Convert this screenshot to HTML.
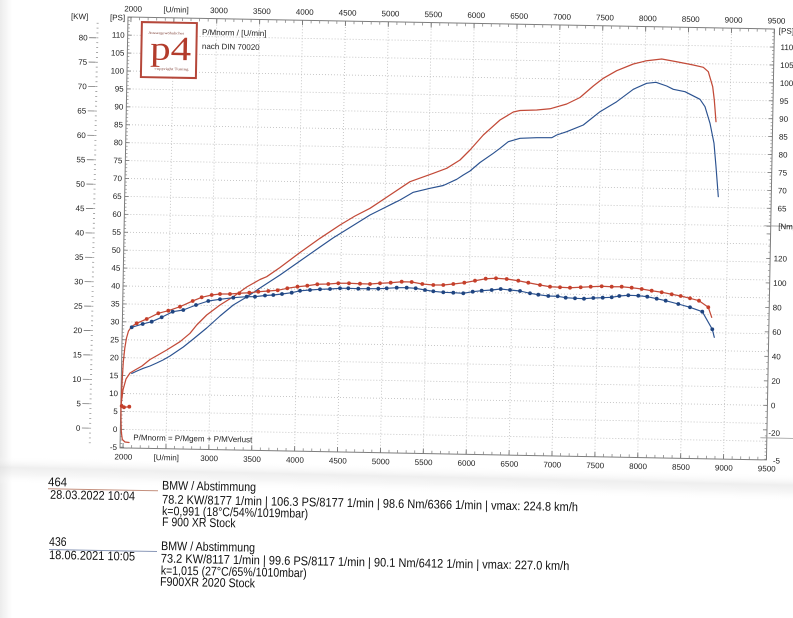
<!DOCTYPE html>
<html><head><meta charset="utf-8"><title>Dyno chart</title>
<style>html,body{margin:0;padding:0;background:#fff;width:793px;height:618px;overflow:hidden}svg{display:block}</style></head>
<body>
<svg xmlns="http://www.w3.org/2000/svg" width="793" height="618" viewBox="0 0 793 618">
<defs>
<linearGradient id="crease" x1="0" y1="0" x2="0" y2="1">
<stop offset="0" stop-color="#fff" stop-opacity="0"/>
<stop offset="0.4" stop-color="#dadada" stop-opacity="0.45"/>
<stop offset="0.65" stop-color="#e8e8e8" stop-opacity="0.4"/>
<stop offset="1" stop-color="#fff" stop-opacity="0"/>
</linearGradient>
<linearGradient id="leftedge" x1="0" y1="0" x2="1" y2="0">
<stop offset="0" stop-color="#ececec"/><stop offset="1" stop-color="#fff"/>
</linearGradient>
<marker id="dr" markerWidth="6" markerHeight="6" refX="3" refY="3" markerUnits="userSpaceOnUse"><circle cx="3" cy="3" r="1.9" fill="#c53f2a"/></marker>
<marker id="db" markerWidth="6" markerHeight="6" refX="3" refY="3" markerUnits="userSpaceOnUse"><circle cx="3" cy="3" r="1.9" fill="#1f4480"/></marker>
</defs>
<rect width="793" height="618" fill="#fff"/>
<rect x="0" y="0" width="12" height="618" fill="url(#leftedge)"/>
<rect x="0" y="456" width="800" height="28" fill="url(#crease)" transform="rotate(1.3 0 456)"/>

<g transform="rotate(1.06 128 17) translate(128 17)" font-family="'Liberation Sans', Arial, sans-serif" font-size="8" fill="#222">
<!-- grid -->
<g stroke="#c2c2c2" stroke-width="0.9" stroke-dasharray="1 2" fill="none">
<path d="M45.9 0V431M88.8 0V431M131.7 0V431M174.6 0V431M217.5 0V431M260.4 0V431M303.3 0V431M346.2 0V431M389.1 0V431M432 0V431M474.9 0V431M517.8 0V431M560.7 0V431M603.6 0V431"/>
<path d="M0 18.12H646.5M0 36.04H646.5M0 53.96H646.5M0 71.88H646.5M0 89.8H646.5M0 107.72H646.5M0 125.64H646.5M0 143.56H646.5M0 161.48H646.5M0 179.4H646.5M0 197.32H646.5M0 215.24H646.5M0 233.16H646.5M0 251.08H646.5M0 269H646.5M0 286.92H646.5M0 304.84H646.5M0 322.76H646.5M0 340.68H646.5M0 358.6H646.5M0 376.52H646.5M0 394.44H646.5M0 412.36H646.5"/>
</g>
<!-- frame -->
<path d="M0 0H646.5V431H0Z" stroke="#7d7d7d" stroke-width="1" fill="none"/>
<path d="M640 197H668M640 409H700" stroke="#9a9a9a" stroke-width="0.8" fill="none"/>
<!-- ticks -->
<g fill="none">
<line x1="2.6" y1="1.5" x2="647" y2="1.5" stroke="#888" stroke-width="3" stroke-dasharray="0.8 7.78"/>
<line x1="2.55" y1="2.5" x2="648" y2="2.5" stroke="#777" stroke-width="5" stroke-dasharray="0.9 42"/>
<line x1="2.6" y1="429.5" x2="647" y2="429.5" stroke="#888" stroke-width="3" stroke-dasharray="0.8 7.78"/>
<line x1="2.55" y1="428.5" x2="648" y2="428.5" stroke="#777" stroke-width="5" stroke-dasharray="0.9 42"/>
<line x1="1" y1="430.63" x2="1" y2="0" stroke="#888" stroke-width="2" stroke-dasharray="0.7 2.884"/>
<line x1="2" y1="430.7" x2="2" y2="0" stroke="#777" stroke-width="4" stroke-dasharray="0.8 17.12"/>
<line x1="645.5" y1="197.67" x2="645.5" y2="0" stroke="#888" stroke-width="2" stroke-dasharray="0.7 2.884"/>
<line x1="644.5" y1="197.72" x2="644.5" y2="0" stroke="#777" stroke-width="4" stroke-dasharray="0.8 17.12"/>
<line x1="645.5" y1="407.4" x2="645.5" y2="200" stroke="#888" stroke-width="2" stroke-dasharray="0.7 5.425"/>
<line x1="644.5" y1="401.4" x2="644.5" y2="200" stroke="#777" stroke-width="4" stroke-dasharray="0.8 23.7"/>
<line x1="645.5" y1="430.63" x2="645.5" y2="409" stroke="#888" stroke-width="2" stroke-dasharray="0.7 2.884"/>
<line x1="-30.3" y1="426.8" x2="-30.3" y2="4" stroke="#888" stroke-width="2" stroke-dasharray="0.7 4.18"/>
<line x1="-35" y1="412.2" x2="-35" y2="15" stroke="#777" stroke-width="7" stroke-dasharray="0.8 23.6"/>
</g>
<!-- top labels -->
<g text-anchor="middle">
<text x="5" y="-5.5">2000</text><text x="48" y="-5.5">[U/min]</text><text x="90.8" y="-5.5">3000</text><text x="133.7" y="-5.5">3500</text><text x="176.6" y="-5.5">4000</text><text x="219.5" y="-5.5">4500</text><text x="262.4" y="-5.5">5000</text><text x="305.3" y="-5.5">5500</text><text x="348.2" y="-5.5">6000</text><text x="391.1" y="-5.5">6500</text><text x="434" y="-5.5">7000</text><text x="476.9" y="-5.5">7500</text><text x="519.8" y="-5.5">8000</text><text x="562.7" y="-5.5">8500</text><text x="605.6" y="-5.5">9000</text><text x="648.5" y="-5.5">9500</text>
</g>
<!-- bottom labels -->
<g text-anchor="middle">
<text x="3.5" y="442.5">2000</text><text x="46.4" y="442.5">[U/min]</text><text x="89.3" y="442.5">3000</text><text x="132.2" y="442.5">3500</text><text x="175.1" y="442.5">4000</text><text x="218" y="442.5">4500</text><text x="260.9" y="442.5">5000</text><text x="303.8" y="442.5">5500</text><text x="346.7" y="442.5">6000</text><text x="389.6" y="442.5">6500</text><text x="432.5" y="442.5">7000</text><text x="475.4" y="442.5">7500</text><text x="518.3" y="442.5">8000</text><text x="561.2" y="442.5">8500</text><text x="604.1" y="442.5">9000</text><text x="647" y="442.5">9500</text>
</g>
<!-- left PS labels -->
<g text-anchor="end">
<text x="-3" y="433.1">-5</text><text x="-3" y="415.2">0</text><text x="-3" y="397.2">5</text><text x="-3" y="379.3">10</text><text x="-3" y="361.4">15</text><text x="-3" y="343.5">20</text><text x="-3" y="325.6">25</text><text x="-3" y="307.6">30</text><text x="-3" y="289.7">35</text><text x="-3" y="271.8">40</text><text x="-3" y="253.9">45</text><text x="-3" y="236">50</text><text x="-3" y="218">55</text><text x="-3" y="200.1">60</text><text x="-3" y="182.2">65</text><text x="-3" y="164.3">70</text><text x="-3" y="146.4">75</text><text x="-3" y="128.4">80</text><text x="-3" y="110.5">85</text><text x="-3" y="92.6">90</text><text x="-3" y="74.7">95</text><text x="-3" y="56.8">100</text><text x="-3" y="38.8">105</text><text x="-3" y="20.9">110</text>
</g>
<text x="-18" y="3.5">[PS]</text>
<text x="-57" y="3">[KW]</text>
<!-- KW labels -->
<g text-anchor="end">
<text x="-40" y="414.6">0</text><text x="-40" y="390.2">5</text><text x="-40" y="365.8">10</text><text x="-40" y="341.4">15</text><text x="-40" y="317">20</text><text x="-40" y="292.6">25</text><text x="-40" y="268.2">30</text><text x="-40" y="243.8">35</text><text x="-40" y="219.4">40</text><text x="-40" y="195">45</text><text x="-40" y="170.6">50</text><text x="-40" y="146.2">55</text><text x="-40" y="121.8">60</text><text x="-40" y="97.4">65</text><text x="-40" y="73">70</text><text x="-40" y="48.6">75</text><text x="-40" y="24.2">80</text>
</g>
<!-- right PS labels -->
<g>
<text x="651" y="4.5">[PS]</text>
<text x="653" y="182.2">65</text><text x="653" y="164.3">70</text><text x="653" y="146.4">75</text><text x="653" y="128.4">80</text><text x="653" y="110.5">85</text><text x="653" y="92.6">90</text><text x="653" y="74.7">95</text><text x="653" y="56.8">100</text><text x="653" y="38.8">105</text><text x="653" y="20.9">110</text>
<text x="654" y="200">[Nm]</text>
<text x="650" y="232.3">120</text><text x="650" y="256.8">100</text><text x="650" y="281.3">80</text><text x="650" y="305.8">60</text><text x="650" y="330.3">40</text><text x="650" y="354.8">20</text><text x="650" y="379.3">0</text><text x="648" y="406.8">-20</text>
<text x="653" y="434.5">-5</text>
</g>
<!-- logo -->
<rect x="14" y="4.8" width="55" height="55" fill="#fff" stroke="#b5473a" stroke-width="2"/>
<text x="20.5" y="16.5" font-family="'Liberation Serif', serif" font-size="3.6" fill="#7a3a30" textLength="36" lengthAdjust="spacingAndGlyphs">Aussergewöhnliches</text>
<text x="22.8" y="42.1" font-family="'Liberation Serif', serif" font-size="34" fill="#b33c2c" textLength="41" lengthAdjust="spacingAndGlyphs">p4</text>
<text x="27.5" y="52.3" font-family="'Liberation Serif', serif" font-size="3.6" fill="#7a3a30" textLength="34" lengthAdjust="spacingAndGlyphs">copyright Tuning</text>
<text x="74.3" y="16.5" textLength="64.5" lengthAdjust="spacingAndGlyphs">P/Mnorm / [U/min]</text>
<text x="74.5" y="30.5" textLength="57.7" lengthAdjust="spacingAndGlyphs">nach DIN 70020</text>
<text x="13.1" y="423" textLength="119" lengthAdjust="spacingAndGlyphs">P/Mnorm = P/Mgem + P/MVerlust</text>
</g>

<!-- curves (screen coords) -->
<g fill="none" stroke-linejoin="round" stroke-linecap="round">
<polyline stroke="#c24a38" stroke-width="1.25" points="121,405 123,390 126,379 130,373 135,370 142,366 150,359.5 158,355 166.7,350 180,341.7 190,333.3 196.7,325 206.7,315 220,305 233.3,296.7 246.7,287 260,279.5 266.7,276.7 280,267.5 300,252.5 320,238.3 340,225 355,216 370,208.3 390,195 410,181.7 433.3,173.3 446.7,168.3 460,160 470,150 483.3,135 500,120 513.3,112 520,110.5 536.7,110 550,108.8 566.7,104 580,97.5 593.3,86 603.3,78.3 616.7,70.7 633.3,64 646.7,60.7 661.7,59 676.7,61.7 693.3,65 703.3,67.3 708.3,71.7 712.7,86.7 714.3,100 716,121.7"/>
<polyline stroke="#2b5290" stroke-width="1.15" points="131.7,373.5 137,371 143.3,368.3 150,366 156.7,363 163,360 170,356 183.3,347 193.3,339 206.7,328 220,316 233.3,305 246.7,297 260,288 280,275 300,261 320,247 333,238 346.7,229.5 370,215 393.3,203.3 400,200 413.3,192.3 430,188.3 443.3,185.5 456.7,179.3 463.3,175 470,171 480,162.5 493.3,153.3 500,148.3 508.3,141.7 520,138.3 536.7,137.7 551.7,137.7 556.7,135 566.7,131.7 583.3,125 600,111.7 616.7,101.7 633.3,89.3 646.7,83.3 656,82.3 666.7,86 673.3,89.3 685,91.7 700,99.3 705,106.7 710,123.3 714,143.3 716,166.7 718.3,196.7"/>
<polyline stroke="#c24a38" stroke-width="1.25" points="129,442.5 125,442 122.3,439.5 121.3,432 121,420 121,408 121.5,395 122.3,378 123.3,362 124.8,348 126.5,338 128.5,331 131.7,326.5 136.7,323.3 146.7,319 158.3,313.3 168.3,310.7 180,306.7 192.7,301 201.7,297.3 211.7,295 220,294 230,294 239.3,293.3 249.3,292.7 258.3,291.7 268.3,291 277.7,290.3 287.3,288.3 297.5,286.7 307.3,285.7 317.3,284.3 328.3,284 338.3,283.3 349,283.3 360,283.7 370,284 380,283.3 390.7,282.7 401.7,281.7 411.7,282 422.3,284 433.3,285 443.3,285 453.3,284 464.3,282.7 475,280.7 485.7,278.7 496,278.3 506.7,279 518.3,280.7 528.3,282.7 540,285 550,286.7 560,287.3 570,287.7 580.7,287.3 590.7,286.7 601.7,286.3 611.7,286.7 621.7,286.7 631.7,287.7 641.7,289 651.7,290.7 661.7,292.3 671.7,294.3 680.7,296 690,298.3 699,300.7 708.3,307.3 711.7,317.3"/>
<polyline stroke="#c24a38" stroke-width="1.25" points="121.7,406 124,407.3 129.3,406.7"/>
<polyline stroke="#2b5290" stroke-width="1.15" points="131.7,327.3 142.7,324 151.7,321.7 161.7,317.3 172.7,311.7 183.3,310 196,305 208.3,301 220,299.3 233.3,297.7 246.7,296.7 255,296.7 265,295.5 273.3,295 282,294 291.7,292.7 300,290.8 310,290 320,289.3 330,289 340,288.3 348.3,288.3 358.3,288.7 368.3,288.7 378.3,288.7 386.7,288.3 396.7,287.7 406.7,287.7 415.7,288.3 425,290 433.3,291.3 443.3,292.3 453.3,292.7 463.3,293.3 472.7,291.7 481.7,290.7 491.7,290 500.7,289 510,290 520,291 530,293.3 538.3,294.7 548.3,296 557.7,296.3 565.7,297.7 575,298.3 584,298.7 593.3,298 602.7,297.7 611.7,297.3 619.3,296 628.3,295.3 638.3,295.7 647.3,296.7 656.7,298.7 665.7,300.7 678.3,304 690,307.3 702.3,311.7 712.3,329.3 714.3,337.3"/>
</g>
<!-- dots -->
<polyline fill="none" stroke="none" marker-start="url(#dr)" marker-mid="url(#dr)" marker-end="url(#dr)" points="136.7,323.3 146.7,319 158.3,313.3 168.3,310.7 180,306.7 192.7,301 201.7,297.3 211.7,295 220,294 230,294 239.3,293.3 249.3,292.7 258.3,291.7 268.3,291 277.7,290.3 287.3,288.3 297.5,286.7 307.3,285.7 317.3,284.3 328.3,284 338.3,283.3 349,283.3 360,283.7 370,284 380,283.3 390.7,282.7 401.7,281.7 411.7,282 422.3,284 433.3,285 443.3,285 453.3,284 464.3,282.7 475,280.7 485.7,278.7 496,278.3 506.7,279 518.3,280.7 528.3,282.7 540,285 550,286.7 560,287.3 570,287.7 580.7,287.3 590.7,286.7 601.7,286.3 611.7,286.7 621.7,286.7 631.7,287.7 641.7,289 651.7,290.7 661.7,292.3 671.7,294.3 680.7,296 690,298.3 699,300.7 708.3,307.3"/>
<polyline fill="none" stroke="none" marker-start="url(#dr)" marker-mid="url(#dr)" marker-end="url(#dr)" points="121.7,406 124,407.3 129.3,406.7"/>
<polyline fill="none" stroke="none" marker-start="url(#db)" marker-mid="url(#db)" marker-end="url(#db)" points="131.7,327.3 142.7,324 151.7,321.7 161.7,317.3 172.7,311.7 183.3,310 196,305 208.3,301 220,299.3 233.3,297.7 246.7,296.7 255,296.7 265,295.5 273.3,295 282,294 291.7,292.7 300,290.8 310,290 320,289.3 330,289 340,288.3 348.3,288.3 358.3,288.7 368.3,288.7 378.3,288.7 386.7,288.3 396.7,287.7 406.7,287.7 415.7,288.3 425,290 433.3,291.3 443.3,292.3 453.3,292.7 463.3,293.3 472.7,291.7 481.7,290.7 491.7,290 500.7,289 510,290 520,291 530,293.3 538.3,294.7 548.3,296 557.7,296.3 565.7,297.7 575,298.3 584,298.7 593.3,298 602.7,297.7 611.7,297.3 619.3,296 628.3,295.3 638.3,295.7 647.3,296.7 656.7,298.7 665.7,300.7 678.3,304 690,307.3 702.3,311.7 712.3,329.3"/>

<!-- record text -->
<g font-family="'Liberation Sans', Arial, sans-serif" font-size="12.5" fill="#111">
<text x="48" y="486" transform="rotate(1.06 48 486)" textLength="19" lengthAdjust="spacingAndGlyphs">464</text>
<line x1="48" y1="488.8" x2="158" y2="490.8" stroke="#c4907e" stroke-width="1"/>
<text x="50" y="498.7" transform="rotate(1.06 50 498.7)" textLength="85" lengthAdjust="spacingAndGlyphs">28.03.2022  10:04</text>
<text x="162" y="489.5" transform="rotate(1.06 162 489.5)" textLength="94" lengthAdjust="spacingAndGlyphs">BMW / Abstimmung</text>
<text x="162" y="503.5" transform="rotate(1.06 162 503.5)" textLength="416" lengthAdjust="spacingAndGlyphs">78.2 KW/8177 1/min  |  106.3 PS/8177 1/min  |  98.6 Nm/6366 1/min | vmax: 224.8 km/h</text>
<text x="162" y="515" transform="rotate(1.06 162 515)" textLength="146" lengthAdjust="spacingAndGlyphs">k=0,991 (18°C/54%/1019mbar)</text>
<text x="162" y="526" transform="rotate(1.06 162 526)" textLength="73.5" lengthAdjust="spacingAndGlyphs">F 900 XR Stock</text>

<text x="49" y="545.7" transform="rotate(1.06 49 545.7)" textLength="17.5" lengthAdjust="spacingAndGlyphs">436</text>
<line x1="49" y1="549.5" x2="157" y2="551.5" stroke="#8a98b8" stroke-width="1"/>
<text x="49" y="559" transform="rotate(1.06 49 559)" textLength="86" lengthAdjust="spacingAndGlyphs">18.06.2021  10:05</text>
<text x="161" y="550" transform="rotate(1.06 161 550)" textLength="94" lengthAdjust="spacingAndGlyphs">BMW / Abstimmung</text>
<text x="160.7" y="562.5" transform="rotate(1.06 160.7 562.5)" textLength="408.6" lengthAdjust="spacingAndGlyphs">73.2 KW/8117 1/min  |  99.6 PS/8117 1/min  |  90.1 Nm/6412 1/min | vmax: 227.0 km/h</text>
<text x="160.7" y="574.5" transform="rotate(1.06 160.7 574.5)" textLength="146" lengthAdjust="spacingAndGlyphs">k=1,015 (27°C/65%/1010mbar)</text>
<text x="160" y="585.7" transform="rotate(1.06 160 585.7)" textLength="95" lengthAdjust="spacingAndGlyphs">F900XR 2020 Stock</text>
</g>
</svg>
</body></html>
